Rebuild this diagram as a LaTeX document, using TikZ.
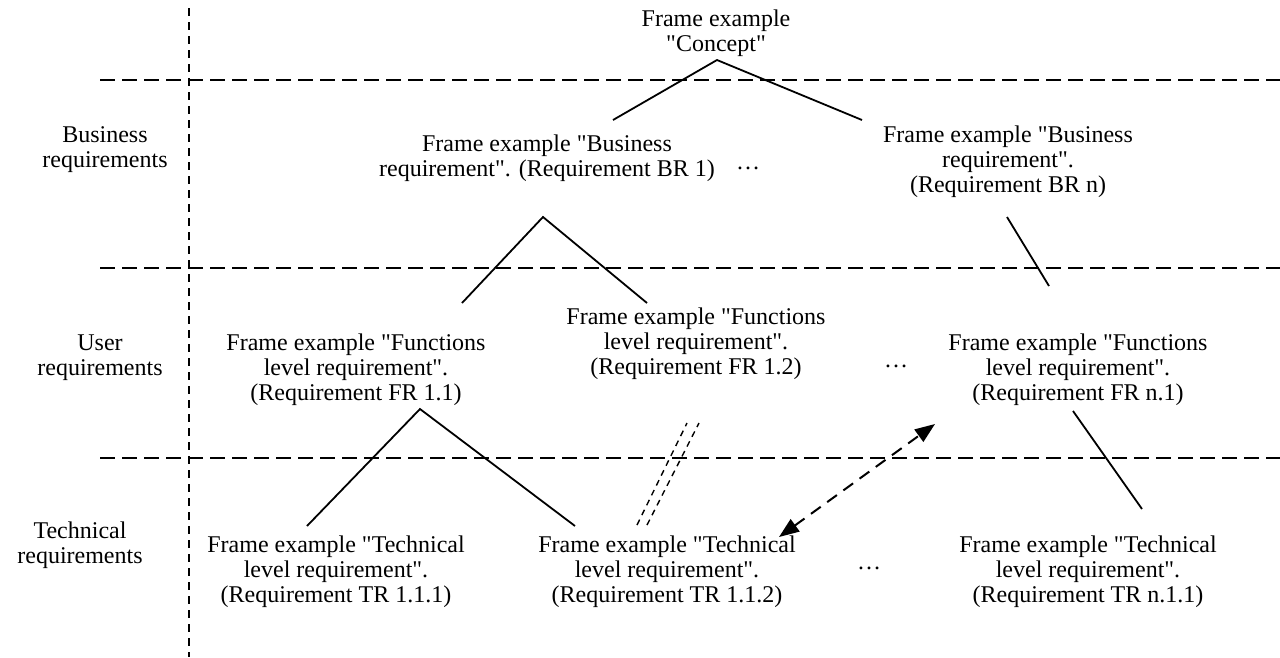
\documentclass[tikz,border=0pt]{standalone}
\usepackage{fontspec}
\setmainfont{Liberation Serif}[Ligatures=TeXOff]
\usetikzlibrary{arrows.meta}
\begin{document}
\begin{tikzpicture}[x=1pt,y=-1pt,
  txt/.style={inner sep=0pt,align=center,font=\fontsize{24}{25}\selectfont},
  levelrule/.style={line width=2pt,dash pattern=on 15pt off 7pt},
  siderule/.style={line width=1.5pt,dash pattern=on 8pt off 6pt},
  link/.style={line width=1.8pt},
  weaklink/.style={line width=1.4pt,dash pattern=on 6pt off 5pt},
  tracelink/.style={line width=2pt,dash pattern=on 12pt off 8pt,
    {Triangle[length=20pt,width=15pt]}-{Triangle[length=20pt,width=15pt]}}]
\useasboundingbox (0,0) rectangle (1280,657);

% level separators
\coordinate (vTop) at (189,8);
\coordinate (vBot) at (189,657);
\draw[siderule] (vTop) -- (vBot);
\foreach \yy/\nm in {80/a,268/b,458/c}{
  \coordinate (h\nm L) at (100,\yy);
  \coordinate (h\nm R) at (1280,\yy);
  \draw[levelrule] (h\nm L) -- (h\nm R);
}

% level labels
\node[txt] (lbus)  at (105,150) {Business\\requirements};
\node[txt] (lusr)  at (100,358) {User\\requirements};
\node[txt] (ltech) at (80,545)  {Technical\\requirements};

% frames
\node[txt] (concept) at (716,33) {Frame example\\"Concept"};
\node[txt] (br1) at (547,158) {Frame example "Business\\requirement". (Requirement BR 1)};
\node[txt] (brn) at (1008,162) {Frame example "Business\\requirement".\\(Requirement BR n)};
\node[txt] (dotsA) at (748,168) {…};
\node[txt] (fr11) at (356,370) {Frame example "Functions\\level requirement".\\(Requirement FR 1.1)};
\node[txt] (fr12) at (696,344) {Frame example "Functions\\level requirement".\\(Requirement FR 1.2)};
\node[txt] (dotsB) at (896,366) {…};
\node[txt] (frn1) at (1078,370) {Frame example "Functions\\level requirement".\\(Requirement FR n.1)};
\node[txt] (tr111) at (336,572) {Frame example "Technical\\level requirement".\\(Requirement TR 1.1.1)};
\node[txt] (tr112) at (667,572) {Frame example "Technical\\level requirement".\\(Requirement TR 1.1.2)};
\node[txt] (dotsC) at (869,568) {…};
\node[txt] (trn11) at (1088,572) {Frame example "Technical\\level requirement".\\(Requirement TR n.1.1)};

% connector end points
\coordinate (cApex) at (717,60);
\coordinate (cL) at (613,120);
\coordinate (cR) at (862,120);
\coordinate (bApex) at (543,217);
\coordinate (bL) at (462,303);
\coordinate (bR) at (647,303);
\coordinate (bnTop) at (1007,217);
\coordinate (bnBot) at (1049,286);
\coordinate (fApex) at (420,409);
\coordinate (fL) at (307,526);
\coordinate (fR) at (575,526);
\coordinate (fnTop) at (1073,411);
\coordinate (fnBot) at (1142,509);
\coordinate (wA1) at (637,525);
\coordinate (wA2) at (687,423);
\coordinate (wB1) at (647,525);
\coordinate (wB2) at (699,423);
\coordinate (tA) at (779,537);
\coordinate (tB) at (935,424);

% decomposition links
\draw[link] (cL) -- (cApex) -- (cR);
\draw[link] (bL) -- (bApex) -- (bR);
\draw[link] (bnTop) -- (bnBot);
\draw[link] (fL) -- (fApex) -- (fR);
\draw[link] (fnTop) -- (fnBot);

% weak link and traceability link
\draw[weaklink] (wA1) -- (wA2);
\draw[weaklink] (wB1) -- (wB2);
\draw[tracelink] (tA) -- (tB);
\end{tikzpicture}
\end{document}
